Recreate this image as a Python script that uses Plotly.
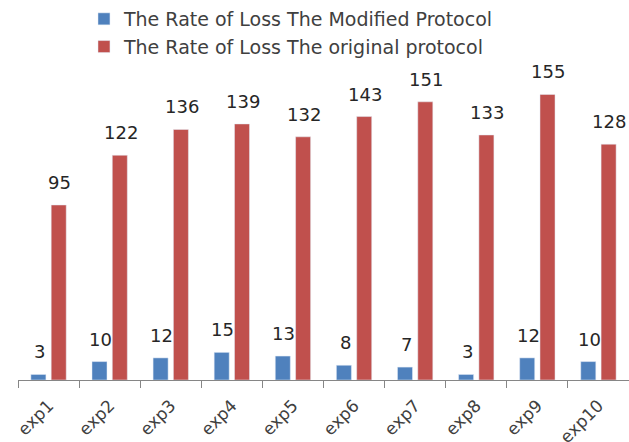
import plotly.graph_objects as go

categories = ["exp1", "exp2", "exp3", "exp4", "exp5", "exp6", "exp7", "exp8", "exp9", "exp10"]
modified = [3, 10, 12, 15, 13, 8, 7, 3, 12, 10]
original = [95, 122, 136, 139, 132, 143, 151, 133, 155, 128]
series_names = ["The Rate of Loss The Modified Protocol", "The Rate of Loss The original protocol"]

BLUE = "#4F81BD"
RED = "#C0504D"
FONT = "DejaVu Sans"

fig = go.Figure()
fig.add_trace(go.Bar(x=categories, y=modified, name=series_names[0], marker_color=BLUE))
fig.add_trace(go.Bar(x=categories, y=original, name=series_names[1], marker_color=RED))

for vals, shift in ((modified, -10), (original, 10)):
    for c, v in zip(categories, vals):
        fig.add_annotation(x=c, y=v, text=str(v), showarrow=False, xshift=shift + 1, yshift=10,
                           yanchor="bottom", font=dict(family=FONT, size=18, color="#262626"))

fig.update_layout(
    width=629, height=442,
    margin=dict(l=18, r=0, t=60, b=62, autoexpand=False),
    paper_bgcolor="white", plot_bgcolor="white",
    barmode="group", bargap=0.335, bargroupgap=0.26,
    showlegend=True,
    legend=dict(xref="container", yref="container", x=0.1335, y=1.005, xanchor="left", yanchor="top",
                font=dict(family=FONT, size=19, color="#404040"), tracegroupgap=0,
                itemwidth=30, bgcolor="rgba(0,0,0,0)"),
    xaxis=dict(showline=True, linecolor="#868686", linewidth=1, ticks="outside", tickson="boundaries",
               ticklen=7, tickcolor="#868686", tickangle=-45, ticklabelstandoff=8,
               tickfont=dict(family=FONT, size=17, color="#404040"), range=[-0.5, 9.5]),
    yaxis=dict(visible=False, range=[0, 173.7]),
)

fig.write_html("out.html")
